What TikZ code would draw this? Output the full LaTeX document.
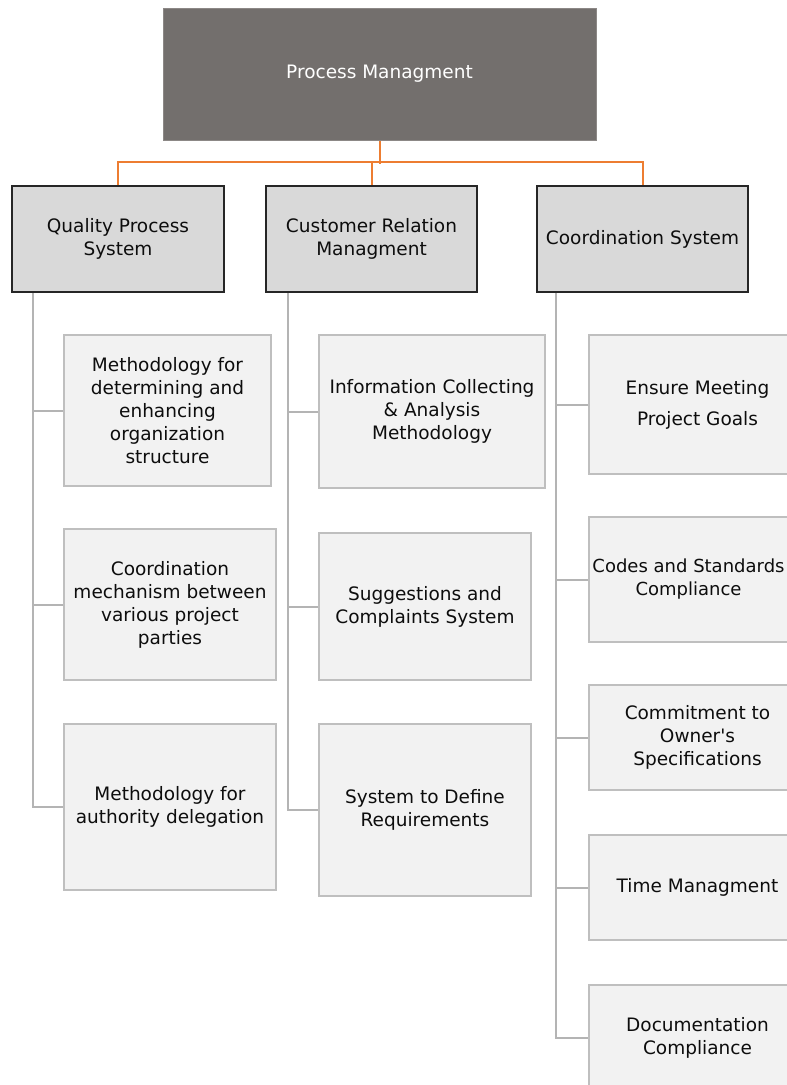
\documentclass[tikz,border=0pt]{standalone}
\usepackage{fontspec}
\setmainfont{DejaVu Sans}
\begin{document}
\begin{tikzpicture}[x=1pt,y=-1pt,
  txt/.style={font=\fontsize{18.5pt}{23pt}\selectfont, align=center, inner sep=0pt, text=black!95},
  rootbox/.style={txt, fill=rootfill, draw=rootline, line width=1pt, text=white},
  headbox/.style={txt, fill=headfill, draw=headline, line width=2pt},
  itembox/.style={txt, fill=itemfill, draw=itemline, line width=2pt},
  bus/.style={draw=busorange, line width=2pt},
  branch/.style={draw=branchgrey, line width=2pt}]
\definecolor{rootfill}{HTML}{736F6D}
\definecolor{rootline}{HTML}{8C8886}
\definecolor{headfill}{HTML}{D9D9D9}
\definecolor{headline}{HTML}{262626}
\definecolor{itemfill}{HTML}{F2F2F2}
\definecolor{itemline}{HTML}{BFBFBF}
\definecolor{busorange}{HTML}{ED7D31}
\definecolor{branchgrey}{HTML}{B4B4B4}

\useasboundingbox (0,0) rectangle (787,1085);
\clip (0,0) rectangle (787,1085);
\fill[white] (0,0) rectangle (787,1085);

% root
\node[rootbox, minimum width=433pt, minimum height=132pt] (top) at (379.5,74) {Process Managment};

% second level
\node[headbox, minimum width=212pt, minimum height=106pt] (q) at (118,239) {Quality Process\\System};
\node[headbox, minimum width=211pt, minimum height=106pt] (c) at (371.5,239) {Customer Relation\\Managment};
\node[headbox, minimum width=211pt, minimum height=106pt] (co) at (642.5,239) {Coordination System};

% quality process items
\node[itembox, minimum width=207pt, minimum height=151pt] (q1) at (167.5,410.5) {Methodology for\\determining and\\enhancing\\organization\\structure};
\node[itembox, minimum width=212pt, minimum height=151pt] (q2) at (170,604.5) {Coordination\\mechanism between\\various project\\parties};
\node[itembox, minimum width=212pt, minimum height=166pt] (q3) at (170,807) {Methodology for\\authority delegation};

% customer relation items
\node[itembox, minimum width=226pt, minimum height=153pt] (c1) at (432,411.5) {Information Collecting\\\& Analysis\\Methodology};
\node[itembox, minimum width=212pt, minimum height=147pt] (c2) at (425,606.5) {Suggestions and\\Complaints System};
\node[itembox, minimum width=212pt, minimum height=172pt] (c3) at (425,810) {System to Define\\Requirements};

% coordination items (the column runs past the right edge)
\node[itembox, minimum width=217pt, minimum height=139pt, font=\fontsize{18.5pt}{31pt}\selectfont] (co1) at (697.5,404.5) {Ensure Meeting\\Project Goals};
\node[itembox, minimum width=217pt, minimum height=125pt] (co2) at (697.5,579.5) {};
\node[txt, font=\fontsize{18pt}{23pt}\selectfont] (co2text) at ([xshift=-9pt]co2.center) {Codes and Standards\\Compliance};
\node[itembox, minimum width=217pt, minimum height=105pt] (co3) at (697.5,737.5) {Commitment to\\Owner\textquotesingle s\\Specifications};
\node[itembox, minimum width=217pt, minimum height=105pt] (co4) at (697.5,887.5) {Time Managment};
\node[itembox, minimum width=217pt, minimum height=106pt] (co5) at (697.5,1038) {Documentation\\Compliance};

% orange bus from the root to the second level
\draw[bus] (top.south) -- ++(0,23);
\draw[bus] (q.north) -- ++(0,-23) -| (co.north);
\draw[bus] (c.north) -- ++(0,-23);

% grey trunks and branches
\coordinate (qt) at ([xshift=22pt]q.south west);
\coordinate (ct) at ([xshift=23pt]c.south west);
\coordinate (cot) at ([xshift=20pt]co.south west);

\draw[branch] (qt) |- (q3.west);
\draw[branch] (q1.west) -- (q1.west -| qt);
\draw[branch] (q2.west) -- (q2.west -| qt);

\draw[branch] (ct) |- (c3.west);
\draw[branch] (c1.west) -- (c1.west -| ct);
\draw[branch] (c2.west) -- (c2.west -| ct);

\draw[branch] (cot) |- (co5.west);
\draw[branch] (co1.west) -- (co1.west -| cot);
\draw[branch] (co2.west) -- (co2.west -| cot);
\draw[branch] (co3.west) -- (co3.west -| cot);
\draw[branch] (co4.west) -- (co4.west -| cot);
\end{tikzpicture}
\end{document}
